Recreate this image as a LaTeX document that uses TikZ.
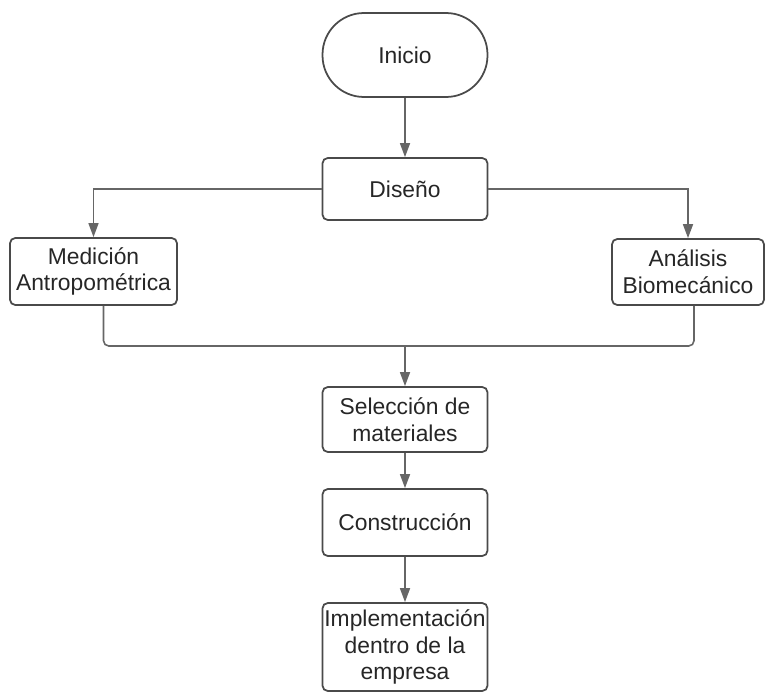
\documentclass[tikz,border=0pt]{standalone}
\usepackage{fontspec}
\setmainfont{Liberation Sans}
\usetikzlibrary{arrows.meta}
\definecolor{boxgray}{HTML}{4A4A4A}
\definecolor{linegray}{HTML}{666666}
\tikzset{
  paso/.style={draw=boxgray, line width=1pt, rounded corners=3pt, align=center,
    inner sep=1pt, font=\fontsize{13}{15.2}\selectfont, text=black!85},
  terminal/.style={paso, rounded corners=0.83cm},
  flecha/.style={draw=linegray, line width=0.9pt, -{Triangle[length=0.28cm, width=0.2cm]}},
  linea/.style={draw=linegray, line width=0.9pt, rounded corners=3pt}
}
\begin{document}
\begin{tikzpicture}[x=0.02cm, y=-0.02cm]
  \useasboundingbox (0,0) rectangle (766,693);
  % nodes
  \node[terminal, minimum width=3.3cm, minimum height=1.68cm] (inicio) at (405,55) {Inicio};
  \node[paso, minimum width=3.3cm, minimum height=1.24cm] (diseno) at (405,189) {Diseño};
  \node[paso, minimum width=3.34cm, minimum height=1.34cm] (medicion) at (93.5,271.5) {Medición\\Antropométrica};
  \node[paso, minimum width=3.04cm, minimum height=1.32cm] (analisis) at (688,272) {Análisis\\Biomecánico};
  \node[paso, minimum width=3.3cm, minimum height=1.3cm] (seleccion) at (405,419.5) {Selección de\\materiales};
  \node[paso, minimum width=3.3cm, minimum height=1.34cm] (construccion) at (405,522.5) {Construcción};
  \node[paso, minimum width=3.3cm, minimum height=1.76cm] (implementacion) at (405,647) {Implementación\\dentro de la\\empresa};
  \coordinate (union) at (405,346);
  % connectors
  \draw[flecha] (inicio) -- (diseno);
  \draw[flecha] (diseno.west) -| (medicion.north);
  \draw[flecha] (diseno.east) -| (analisis.north);
  \draw[linea] ([xshift=0.2cm]medicion.south) |- (union);
  \draw[linea] ([xshift=0.12cm]analisis.south) |- (union);
  \draw[flecha] (union) -- (seleccion);
  \draw[flecha] (seleccion) -- (construccion);
  \draw[flecha] (construccion) -- (implementacion);
\end{tikzpicture}
\end{document}
